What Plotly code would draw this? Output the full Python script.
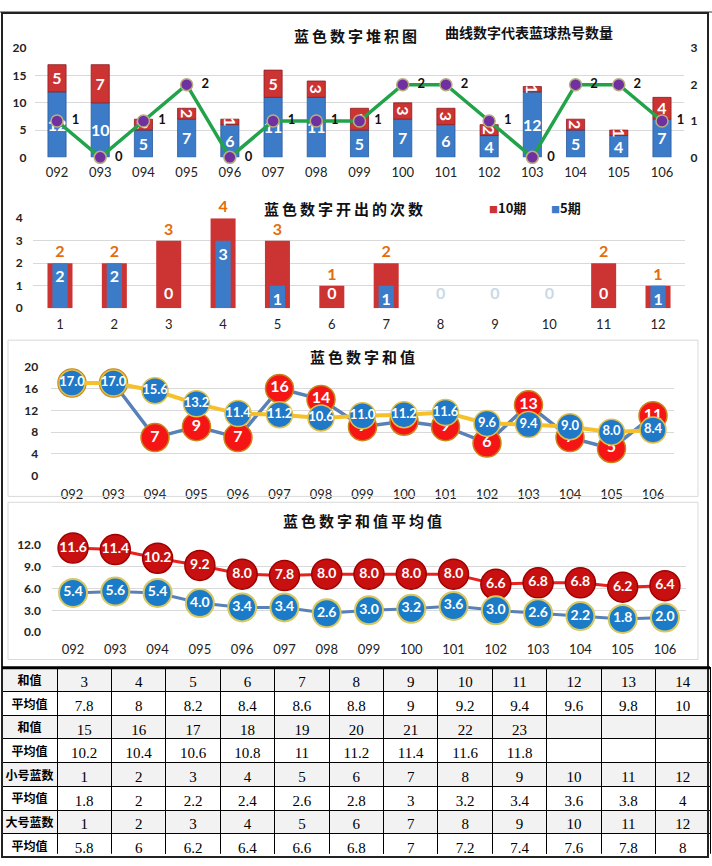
import plotly.graph_objects as go

W, H = 712, 866
def px(p): return p / W
def py(p): return 1 - p / H

# ---------------- data ----------------
periods = ['092', '093', '094', '095', '096', '097', '098', '099', '100', '101', '102', '103', '104', '105', '106']
blue_stack = [12, 10, 5, 7, 6, 11, 11, 5, 7, 6, 4, 12, 5, 4, 7]
red_stack = [5, 7, 2, 2, 1, 5, 3, 4, 3, 3, 2, 1, 2, 1, 4]
hot_count = [1, 0, 1, 2, 0, 1, 1, 1, 2, 2, 1, 0, 2, 2, 1]

numbers = ['1', '2', '3', '4', '5', '6', '7', '8', '9', '10', '11', '12']
cnt10 = [2, 2, 3, 4, 3, 1, 2, 0, 0, 0, 2, 1]
cnt5 = [2, 2, 0, 3, 1, 0, 1, 0, 0, 0, 0, 1]

sum_vals = [17, 17, 7, 9, 7, 16, 14, 9, 10, 9, 6, 13, 7, 5, 11]
sum_ma = [17.0, 17.0, 15.6, 13.2, 11.4, 11.2, 10.6, 11.0, 11.2, 11.6, 9.6, 9.4, 9.0, 8.0, 8.4]

avg_big = [11.6, 11.4, 10.2, 9.2, 8.0, 7.8, 8.0, 8.0, 8.0, 8.0, 6.6, 6.8, 6.8, 6.2, 6.4]
avg_small = [5.4, 5.6, 5.4, 4.0, 3.4, 3.4, 2.6, 3.0, 3.2, 3.6, 3.0, 2.6, 2.2, 1.8, 2.0]

tbl_labels = ['和值', '平均值', '和值', '平均值', '小号蓝数', '平均值', '大号蓝数', '平均值']
tbl_rows = [
    ['3', '4', '5', '6', '7', '8', '9', '10', '11', '12', '13', '14'],
    ['7.8', '8', '8.2', '8.4', '8.6', '8.8', '9', '9.2', '9.4', '9.6', '9.8', '10'],
    ['15', '16', '17', '18', '19', '20', '21', '22', '23', '', '', ''],
    ['10.2', '10.4', '10.6', '10.8', '11', '11.2', '11.4', '11.6', '11.8', '', '', ''],
    ['1', '2', '3', '4', '5', '6', '7', '8', '9', '10', '11', '12'],
    ['1.8', '2', '2.2', '2.4', '2.6', '2.8', '3', '3.2', '3.4', '3.6', '3.8', '4'],
    ['1', '2', '3', '4', '5', '6', '7', '8', '9', '10', '11', '12'],
    ['5.8', '6', '6.2', '6.4', '6.6', '6.8', '7', '7.2', '7.4', '7.6', '7.8', '8'],
]

BLUE = '#3c7bc8'
RED = '#cc3333'
FONT = 'Lato'
CJK = 'Noto Sans CJK SC'

fig = go.Figure()

# ---------------- chart 1: stacked ----------------
fig.add_trace(go.Bar(x=periods, y=blue_stack, xaxis='x', yaxis='y', width=0.42,
                     marker=dict(color=BLUE, line=dict(color='#2a5a9a', width=0.8)),
                     text=blue_stack, textposition='inside', insidetextanchor='middle',
                     textfont=dict(color='white', size=17, family=FONT, weight='bold'),
                     showlegend=False))
fig.add_trace(go.Bar(x=periods, y=red_stack, base=blue_stack, xaxis='x', yaxis='y', width=0.42,
                     marker=dict(color=RED, line=dict(color='#8e2020', width=0.8)),
                     text=red_stack, textposition='inside', insidetextanchor='middle',
                     textfont=dict(color='white', size=17, family=FONT, weight='bold'),
                     showlegend=False))
fig.add_trace(go.Scatter(x=periods, y=hot_count, xaxis='x', yaxis='y2', mode='lines+markers+text',
                         line=dict(color='#22a34a', width=3.5),
                         marker=dict(color='#7030a0', size=12, line=dict(color='#b8ad80', width=1.5)),
                         text=[f'  {v}' for v in hot_count], textposition='middle right',
                         textfont=dict(color='#111', size=13, family=FONT, weight='bold'),
                         cliponaxis=False, showlegend=False))

# ---------------- chart 2: counts ----------------
fig.add_trace(go.Bar(x=numbers, y=cnt10, xaxis='x3', yaxis='y3', width=0.46, name='10期',
                     marker=dict(color=RED, line=dict(color='#8e2020', width=0)),
                     text=[str(v) if v else '' for v in cnt10], textposition='outside',
                     textfont=dict(color='#e46c0a', size=16, family=FONT, weight='bold'),
                     cliponaxis=False, showlegend=False))
fig.add_trace(go.Bar(x=numbers, y=cnt5, xaxis='x3', yaxis='y3', width=0.28, name='5期',
                     marker=dict(color=BLUE, line=dict(color='#2a5a9a', width=0)),
                     text=[str(v) if v else '' for v in cnt5], textposition='inside',
                     insidetextanchor='end',
                     textfont=dict(color='white', size=16, family=FONT, weight='bold'),
                     showlegend=False))
zero_x = [n for n, a, b in zip(numbers, cnt10, cnt5) if b == 0]
zero_col = ['white' if a > 0 else '#c9d9e6' for a, b in zip(cnt10, cnt5) if b == 0]
fig.add_trace(go.Scatter(x=zero_x, y=[0.6] * len(zero_x), xaxis='x3', yaxis='y3', mode='text',
                         text=['0'] * len(zero_x),
                         textfont=dict(color=zero_col, size=16, family=FONT, weight='bold'),
                         showlegend=False, cliponaxis=False))

# ---------------- chart 3: sums ----------------
fig.add_trace(go.Scatter(x=periods, y=sum_vals, xaxis='x4', yaxis='y4', mode='lines+markers+text',
                         line=dict(color='#5a80b8', width=3.5),
                         marker=dict(color='#f51515', size=28, line=dict(color='#c8861a', width=1.5)),
                         text=sum_vals, textposition='middle center',
                         textfont=dict(color='white', size=16, family=FONT, weight='bold'),
                         cliponaxis=False, showlegend=False))
fig.add_trace(go.Scatter(x=periods, y=sum_ma, xaxis='x4', yaxis='y4', mode='lines+markers+text',
                         line=dict(color='#f5c02a', width=4),
                         marker=dict(color='#1f78c8', size=26, line=dict(color='#e0c048', width=1.5)),
                         text=[f'{v:.1f}' for v in sum_ma], textposition='middle center',
                         textfont=dict(color='white', size=13, family=FONT, weight='bold'),
                         cliponaxis=False, showlegend=False))

# ---------------- chart 4: averages ----------------
fig.add_trace(go.Scatter(x=periods, y=avg_big, xaxis='x5', yaxis='y5', mode='lines+markers+text',
                         line=dict(color='#e82020', width=3),
                         marker=dict(color='#c81010', size=30, line=dict(color='#a00000', width=1.5)),
                         text=[f'{v:.1f}' for v in avg_big], textposition='middle center',
                         textfont=dict(color='white', size=14, family=FONT, weight='bold'),
                         cliponaxis=False, showlegend=False))
fig.add_trace(go.Scatter(x=periods, y=avg_small, xaxis='x5', yaxis='y5', mode='lines+markers+text',
                         line=dict(color='#5a80b8', width=3),
                         marker=dict(color='#1a7cc8', size=28, line=dict(color='#d8c860', width=2)),
                         text=[f'{v:.1f}' for v in avg_small], textposition='middle center',
                         textfont=dict(color='white', size=14, family=FONT, weight='bold'),
                         cliponaxis=False, showlegend=False))

# ---------------- table ----------------
cols = [[r[i] for r in tbl_rows[1:]] for i in range(12)]
row_fill = ['white' if k % 2 == 0 else '#f2f2f2' for k in range(7)]
fig.add_trace(go.Table(
    domain=dict(x=[px(2), px(710)], y=[py(861), py(671.5)]),
    columnwidth=[55] + [54.4] * 12,
    header=dict(values=[tbl_labels[0]] + tbl_rows[0], height=23.7,
                fill_color='#f2f2f2', line=dict(color='black', width=1), align='center',
                font=dict(family=[CJK] + ['Liberation Serif'] * 12, size=[12] + [15] * 12,
                          color='black', weight=['bold'] + ['normal'] * 12)),
    cells=dict(values=[tbl_labels[1:]] + cols, height=23.7,
               fill_color=[row_fill] * 13, line=dict(color='black', width=1), align='center',
               font=dict(family=[CJK] + ['Liberation Serif'] * 12, size=[12] + [15] * 12,
                         color='black', weight=['bold'] + ['normal'] * 12))
))

# ---------------- axes ----------------
grid = '#d9d9d9'
tick_y = dict(family=FONT, size=12, color='#222', weight='bold')
tick_x = dict(family=FONT, size=13, color='#222')

def xa(dom, anchor, standoff, n):
    return dict(domain=dom, anchor=anchor, type='category', range=[-0.5, n - 0.5],
                showgrid=False, zeroline=False, showline=False, ticks='', tickfont=tick_x,
                ticklabelstandoff=standoff, fixedrange=True)

def ya(dom, anchor, rng, dtick, standoff, fmt=None):
    d = dict(domain=dom, anchor=anchor, range=rng, dtick=dtick, showgrid=True, gridcolor=grid,
             zeroline=False, showline=False, ticks='', tickfont=tick_y, ticklabelstandoff=standoff)
    if fmt:
        d['tickformat'] = fmt
    return d

fig.update_layout(
    width=W, height=H, margin=dict(l=0, r=0, t=0, b=0),
    paper_bgcolor='white', plot_bgcolor='white',
    barmode='overlay', showlegend=False,
    uniformtext=dict(minsize=16, mode='show'),
    xaxis=xa([px(35.4), px(683.6)], 'y', 6, len(periods)),
    yaxis=ya([py(152), py(41)], 'x', [0, 20], 5, 8),
    yaxis2=dict(overlaying='y', side='right', anchor='x', range=[0, 3], dtick=1, showgrid=False,
                zeroline=False, showline=False, ticks='', tickfont=tick_y, ticklabelstandoff=6),
    xaxis3=xa([px(32.8), px(685.2)], 'y3', 7, len(numbers)),
    yaxis3=ya([py(305.5), py(214)], 'x3', [0, 4], 1, 9),
    xaxis4=xa([px(51.25), px(673.75)], 'y4', 9, len(periods)),
    yaxis4=ya([py(476), py(365)], 'x4', [0, 20], 4, 12),
    xaxis5=xa([px(51.9), px(686.1)], 'y5', 8, len(periods)),
    yaxis5=ya([py(635), py(546.7)], 'x5', [0, 12], 3, 10, fmt='.1f'),
    font=dict(family=FONT),
)

T = '\u2009'
title_font = dict(family=CJK, size=15, color='#111', weight='bold')
leg_font = dict(family=CJK, size=13, color='#111', weight='bold')
annos = [
    dict(text=T.join('蓝色数字堆积图'), x=px(355), y=py(28)),
    dict(text='曲线数字代表蓝球热号数量', x=px(529), y=py(24), font=dict(family=CJK, size=14, color='#111', weight='bold')),
    dict(text=T.join('蓝色数字开出的次数'), x=px(343), y=py(204)),
    dict(text=T.join('蓝色数字和值'), x=px(362), y=py(355)),
    dict(text=T.join('蓝色数字和值平均值'), x=px(362), y=py(522)),
    dict(text=f'<span style="color:{RED};font-size:9px">■</span>10期', x=px(487), y=py(203),
         xanchor='left', font=leg_font),
    dict(text=f'<span style="color:{BLUE};font-size:9px">■</span>5期', x=px(549), y=py(203),
         xanchor='left', font=leg_font),
]
for a in annos:
    a.update(xref='paper', yref='paper', showarrow=False, yanchor='middle')
    a.setdefault('xanchor', 'center')
    a.setdefault('font', title_font)
fig.update_layout(annotations=annos)

shapes = [
    dict(type='line', x0=px(0), x1=px(712), y0=py(4), y1=py(4), line=dict(color='#999', width=2)),
    dict(type='rect', x0=px(2), x1=px(708), y0=py(5), y1=py(864), line=dict(color='#222', width=2)),
    dict(type='rect', x0=px(8), x1=px(698), y0=py(338), y1=py(497), line=dict(color='#d9d9d9', width=1)),
    dict(type='rect', x0=px(8), x1=px(698), y0=py(503), y1=py(663), line=dict(color='#d9d9d9', width=1)),
    dict(type='line', x0=px(2), x1=px(710), y0=py(671.5), y1=py(671.5), line=dict(color='black', width=3)),
]
for s in shapes:
    s.update(xref='paper', yref='paper', layer='above')
fig.update_layout(shapes=shapes)

fig.write_html('out.html')
